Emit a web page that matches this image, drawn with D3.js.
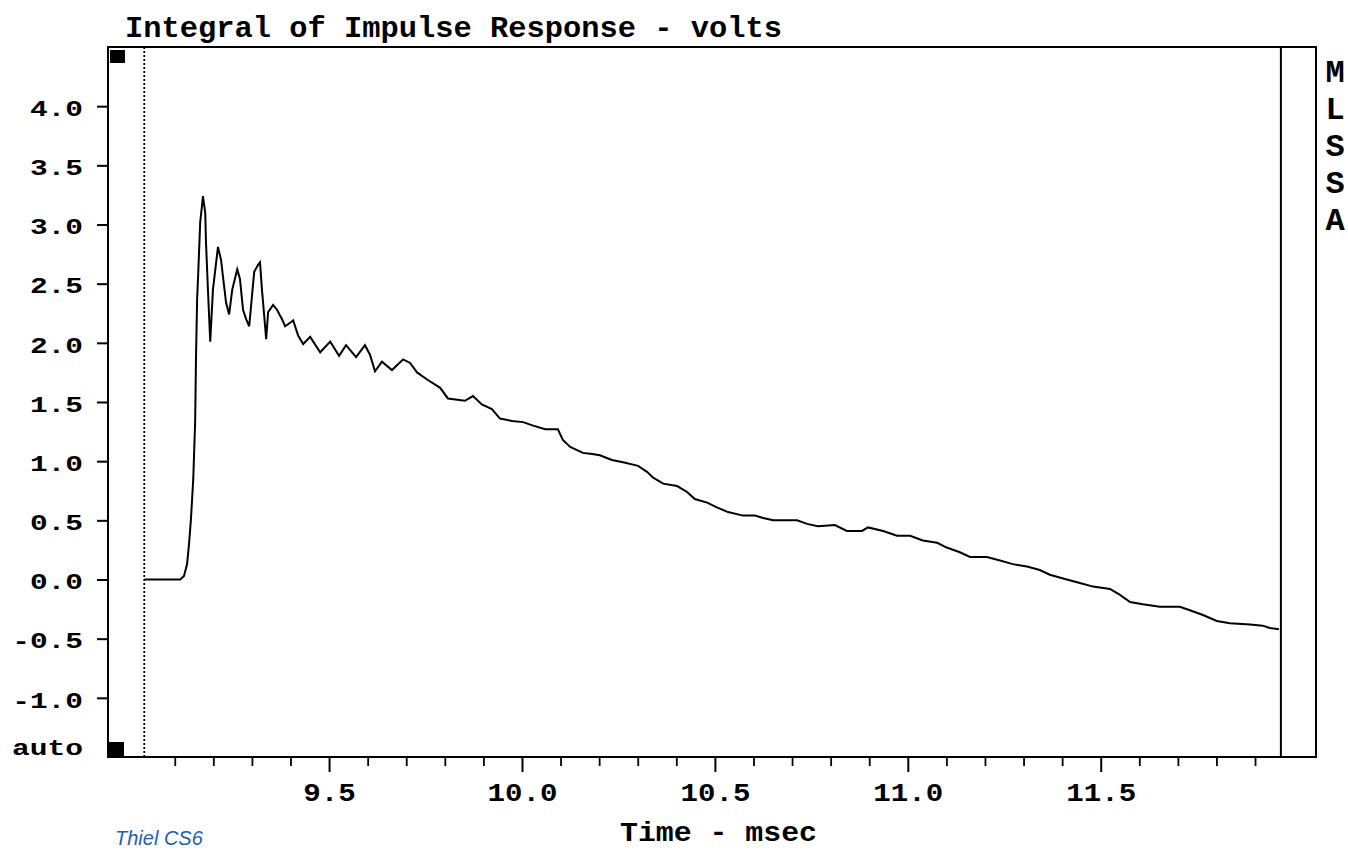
<!DOCTYPE html>
<html>
<head>
<meta charset="utf-8">
<script src="https://cdn.jsdelivr.net/npm/d3@7"></script>
<style>
  html, body { margin: 0; padding: 0; background: #fff; }
  svg { display: block; }
  text.mono { font-family: "Liberation Mono", "DejaVu Sans Mono", monospace; font-weight: bold; fill: #000; }
</style>
</head>
<body>
<svg id="chart" width="1348" height="850"></svg>
<script>
// ---- data (time in msec, integral in volts) ----
const timeMs = [9.021, 9.114, 9.124, 9.132, 9.137, 9.142, 9.148, 9.153, 9.155, 9.158, 9.161, 9.166, 9.171, 9.173, 9.179, 9.181, 9.186, 9.192, 9.199, 9.212, 9.220, 9.225, 9.233, 9.241, 9.249, 9.262, 9.269, 9.277, 9.285, 9.293, 9.300, 9.306, 9.316, 9.321, 9.326, 9.329, 9.337, 9.342, 9.355, 9.365, 9.378, 9.386, 9.399, 9.407, 9.420, 9.433, 9.451, 9.477, 9.503, 9.526, 9.544, 9.570, 9.593, 9.606, 9.619, 9.637, 9.663, 9.692, 9.710, 9.728, 9.754, 9.788, 9.808, 9.852, 9.873, 9.896, 9.922, 9.943, 9.974, 10.003, 10.029, 10.060, 10.093, 10.106, 10.125, 10.158, 10.182, 10.202, 10.233, 10.262, 10.301, 10.324, 10.340, 10.366, 10.402, 10.428, 10.448, 10.480, 10.505, 10.534, 10.573, 10.604, 10.625, 10.651, 10.713, 10.739, 10.767, 10.811, 10.842, 10.881, 10.897, 10.936, 10.972, 11.006, 11.039, 11.076, 11.101, 11.135, 11.161, 11.205, 11.239, 11.272, 11.309, 11.342, 11.368, 11.412, 11.446, 11.480, 11.524, 11.550, 11.576, 11.609, 11.653, 11.705, 11.731, 11.765, 11.801, 11.835, 11.887, 11.920, 11.938, 11.962];
const volts = [0.00, 0.00, 0.03, 0.13, 0.30, 0.51, 0.85, 1.35, 1.86, 2.37, 2.60, 3.02, 3.17, 3.24, 3.10, 2.85, 2.45, 2.01, 2.45, 2.81, 2.70, 2.56, 2.34, 2.24, 2.45, 2.62, 2.54, 2.28, 2.20, 2.14, 2.39, 2.60, 2.66, 2.68, 2.45, 2.34, 2.03, 2.26, 2.32, 2.28, 2.20, 2.14, 2.17, 2.19, 2.06, 1.99, 2.05, 1.92, 2.01, 1.89, 1.98, 1.88, 1.98, 1.90, 1.76, 1.84, 1.77, 1.86, 1.83, 1.75, 1.69, 1.62, 1.53, 1.51, 1.55, 1.48, 1.44, 1.36, 1.34, 1.33, 1.30, 1.27, 1.27, 1.18, 1.12, 1.07, 1.06, 1.05, 1.01, 0.99, 0.96, 0.91, 0.86, 0.81, 0.79, 0.74, 0.68, 0.65, 0.61, 0.57, 0.54, 0.54, 0.52, 0.50, 0.50, 0.47, 0.45, 0.46, 0.41, 0.41, 0.44, 0.41, 0.37, 0.37, 0.33, 0.31, 0.27, 0.23, 0.19, 0.19, 0.16, 0.13, 0.11, 0.08, 0.04, 0.00, -0.03, -0.06, -0.08, -0.13, -0.19, -0.21, -0.23, -0.23, -0.26, -0.30, -0.35, -0.37, -0.38, -0.39, -0.41, -0.42];

// ---- axis ticks / labels ----
const yTicks = [-1.0, -0.5, 0.0, 0.5, 1.0, 1.5, 2.0, 2.5, 3.0, 3.5, 4.0];
const xMajorTicks = [9.5, 10.0, 10.5, 11.0, 11.5];
const xMinorTicks = [9.1, 9.2, 9.3, 9.4, 9.6, 9.7, 9.8, 9.9, 10.1, 10.2, 10.3, 10.4, 10.6, 10.7, 10.8, 10.9, 11.1, 11.2, 11.3, 11.4, 11.6, 11.7, 11.8, 11.9];
const xDomain = [8.927, 12.058];
const yDomain = [-1.5, 4.5];
const cursorTimes = [9.021, 11.967];
const titleText = "Integral of Impulse Response - volts";
const xTitle = "Time - msec";
const sideLabel = ["M", "L", "S", "S", "A"];
const noteText = "Thiel CS6";

// ---- layout ----
const padL = 108, padR = 1316, padT = 47, padB = 757;
const svg = d3.select("#chart");

const x = d3.scaleLinear().domain(xDomain).range([padL, padR]);
const y = d3.scaleLinear().domain(yDomain).range([padB, padT]);

// title
svg.append("text").attr("class", "mono")
  .attr("x", 125).attr("y", 37)
  .attr("font-size", 30)
  .attr("textLength", 657).attr("lengthAdjust", "spacingAndGlyphs")
  .text(titleText);

// x axis minor ticks
const gMinor = svg.append("g")
  .attr("transform", `translate(0,${padB})`)
  .call(d3.axisBottom(x).tickValues(xMinorTicks).tickSize(9).tickFormat(""));
gMinor.select(".domain").remove();
gMinor.selectAll(".tick line").attr("stroke", "#000").attr("stroke-width", 1.8);

// x axis major ticks + labels
const gMajor = svg.append("g")
  .attr("transform", `translate(0,${padB})`)
  .call(d3.axisBottom(x).tickValues(xMajorTicks).tickSize(15).tickPadding(11)
    .tickFormat(d => d.toFixed(1)));
gMajor.select(".domain").remove();
gMajor.selectAll(".tick line").attr("stroke", "#000").attr("stroke-width", 2);
gMajor.selectAll(".tick text")
  .attr("class", "mono")
  .attr("font-size", 25)
  .attr("textLength", function(d) { return d.toFixed(1).length * 17.5; })
  .attr("lengthAdjust", "spacingAndGlyphs");

// y axis
const gY = svg.append("g")
  .attr("transform", `translate(${padL},0)`)
  .call(d3.axisLeft(y).tickValues(yTicks).tickSize(11).tickPadding(14)
    .tickFormat(d => d.toFixed(1)));
gY.select(".domain").remove();
gY.selectAll(".tick line").attr("stroke", "#000").attr("stroke-width", 2);
gY.selectAll(".tick text")
  .attr("class", "mono")
  .attr("font-size", 22)
  .attr("dy", "0.42em")
  .attr("textLength", function(d) { return d.toFixed(1).length * 17.7; })
  .attr("lengthAdjust", "spacingAndGlyphs");

// "auto" label
svg.append("text").attr("class", "mono")
  .attr("x", 83).attr("y", y(yDomain[0]) - 2)
  .attr("text-anchor", "end")
  .attr("font-size", 22)
  .attr("textLength", 71).attr("lengthAdjust", "spacingAndGlyphs")
  .text("auto");

// frame
svg.append("rect")
  .attr("x", padL).attr("y", padT)
  .attr("width", padR - padL).attr("height", padB - padT)
  .attr("fill", "none").attr("stroke", "#000").attr("stroke-width", 2);

// cursors
svg.append("line")
  .attr("x1", x(cursorTimes[0])).attr("x2", x(cursorTimes[0]))
  .attr("y1", padT).attr("y2", padB)
  .attr("stroke", "#000").attr("stroke-width", 1.8)
  .attr("stroke-dasharray", "2,2");
svg.append("line")
  .attr("x1", x(cursorTimes[1])).attr("x2", x(cursorTimes[1]))
  .attr("y1", padT).attr("y2", padB)
  .attr("stroke", "#000").attr("stroke-width", 2);

// black scale markers
svg.append("rect").attr("x", padL + 2).attr("y", padT + 3).attr("width", 15).attr("height", 13).attr("fill", "#000");
svg.append("rect").attr("x", padL + 1).attr("y", padB - 15).attr("width", 15).attr("height", 15).attr("fill", "#000");

// data line
const pts = timeMs.map((t, i) => [t, volts[i]]);
svg.append("path")
  .datum(pts)
  .attr("fill", "none")
  .attr("stroke", "#000")
  .attr("stroke-width", 2)
  .attr("stroke-linejoin", "miter")
  .attr("d", d3.line().x(d => x(d[0])).y(d => y(d[1])));

// x title
svg.append("text").attr("class", "mono")
  .attr("x", 620).attr("y", 841)
  .attr("font-size", 28)
  .attr("textLength", 197).attr("lengthAdjust", "spacingAndGlyphs")
  .text(xTitle);

// side label MLSSA
svg.append("g").selectAll("text")
  .data(sideLabel)
  .join("text").attr("class", "mono")
  .attr("x", 1335).attr("y", (d, i) => 82 + i * 37)
  .attr("text-anchor", "middle")
  .attr("font-size", 32)
  .text(d => d);

// note
svg.append("text")
  .attr("x", 115).attr("y", 845)
  .style("font-family", "'Liberation Sans', Arial, sans-serif")
  .style("font-weight", "normal")
  .style("font-style", "italic")
  .style("font-size", "20px")
  .style("fill", "#2160b0")
  .text(noteText);
</script>
</body>
</html>
